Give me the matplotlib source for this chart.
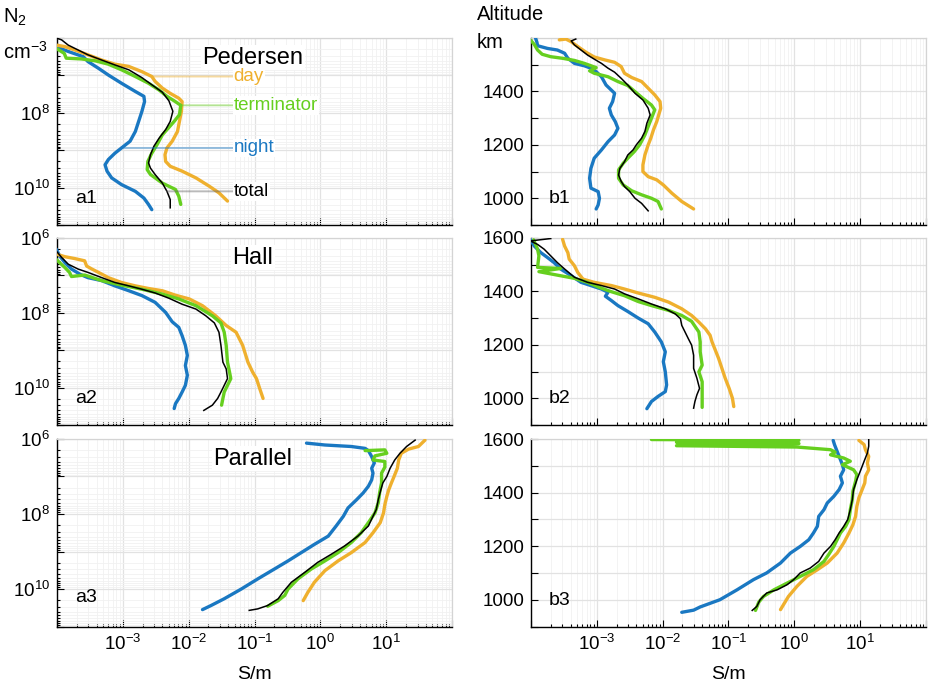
import numpy as np
import matplotlib
matplotlib.use("Agg")
import matplotlib.pyplot as plt
from matplotlib.ticker import LogLocator, MultipleLocator, FuncFormatter, NullFormatter

plt.rcParams["font.family"] = ["Liberation Sans", "DejaVu Sans"]
plt.rcParams["mathtext.default"] = "regular"

# ---- data: log10 of conductivity (S/m) against log10 N2 (cm^-3) or altitude (km)
# Pedersen, N2
a1_night_lgs = [-4.01, -3.83, -3.60, -3.53, -3.37, -3.22, -3.02, -2.81, -2.68, -2.67, -2.71, -2.76, -2.81,
                -2.89, -3.02, -3.12, -3.22, -3.27, -3.24, -3.17, -3.02, -2.81, -2.68, -2.61, -2.56]
a1_night_lgn = [6.23, 6.36, 6.50, 6.63, 6.81, 6.99, 7.21, 7.43, 7.56, 7.70, 7.96, 8.23, 8.50,
                8.76, 8.94, 9.08, 9.25, 9.39, 9.56, 9.74, 9.92, 10.10, 10.28, 10.45, 10.59]
a1_day_lgs = [-4.01, -3.88, -3.73, -3.53, -3.32, -3.12, -2.91, -2.71, -2.56, -2.51, -2.40, -2.28, -2.15, -2.10,
              -2.11, -2.14, -2.17, -2.25, -2.33, -2.36, -2.35, -2.28, -2.10, -1.89, -1.69, -1.54, -1.41]
a1_day_lgn = [6.19, 6.23, 6.32, 6.45, 6.59, 6.70, 6.76, 6.90, 7.03, 7.16, 7.34, 7.48, 7.61, 7.70,
              7.96, 8.23, 8.50, 8.76, 8.94, 9.12, 9.30, 9.43, 9.56, 9.74, 9.96, 10.14, 10.36]
a1_term_lgs = [-4.01, -3.89, -3.86, -3.63, -3.42, -3.22, -3.02, -2.81, -2.61, -2.45, -2.33, -2.22, -2.12,
               -2.14, -2.22, -2.30, -2.40, -2.48, -2.56, -2.62, -2.63, -2.58, -2.40, -2.20, -2.15, -2.12]
a1_term_lgn = [6.28, 6.41, 6.54, 6.56, 6.61, 6.70, 6.85, 7.03, 7.21, 7.39, 7.56, 7.68, 7.80,
               8.05, 8.23, 8.39, 8.59, 8.85, 9.08, 9.30, 9.52, 9.65, 9.88, 10.05, 10.23, 10.45]
a1_total_lgs = [-4.01, -3.93, -3.83, -3.68, -3.53, -3.32, -3.12, -2.91, -2.71, -2.56, -2.40, -2.30, -2.24,
                -2.28, -2.35, -2.45, -2.53, -2.58, -2.61, -2.58, -2.51, -2.40, -2.33, -2.28, -2.28]
a1_total_lgn = [6.00, 6.05, 6.19, 6.32, 6.45, 6.59, 6.72, 6.85, 7.06, 7.25, 7.45, 7.68, 7.96,
                8.23, 8.45, 8.68, 8.90, 9.12, 9.34, 9.48, 9.65, 9.88, 10.10, 10.32, 10.54]

# Pedersen, altitude
b1_night_lgs = [-3.93, -3.91, -3.90, -3.75, -3.60, -3.49, -3.44, -3.34, -3.19, -3.09, -3.01, -2.93, -2.86, -2.78,
                -2.73, -2.76, -2.81, -2.78, -2.72, -2.68, -2.73, -2.83, -2.93, -3.04, -3.09, -3.11, -3.09,
                -2.98, -2.96, -2.98, -3.01]
b1_night_alt = [1599, 1584, 1571, 1561, 1555, 1543, 1524, 1505, 1496, 1487, 1474, 1455, 1424, 1405,
                1393, 1362, 1337, 1312, 1287, 1262, 1237, 1212, 1181, 1150, 1112, 1075, 1038,
                1025, 1000, 975, 960]
b1_day_lgs = [-3.57, -3.47, -3.39, -3.29, -3.16, -3.04, -2.88, -2.73, -2.63, -2.58, -2.47, -2.32, -2.22, -2.12,
              -2.04, -2.03, -2.06, -2.09, -2.14, -2.18, -2.22, -2.27, -2.30, -2.30, -2.22, -2.09, -1.99,
              -1.86, -1.71, -1.53]
b1_day_alt = [1593, 1596, 1586, 1568, 1546, 1529, 1518, 1509, 1493, 1468, 1452, 1437, 1412, 1387,
              1362, 1337, 1312, 1287, 1256, 1225, 1200, 1162, 1125, 1100, 1081, 1069, 1050,
              1019, 988, 960]
b1_term_lgs = [-4.01, -3.95, -3.90, -3.83, -3.70, -3.52, -3.34, -3.19, -3.01, -3.11, -3.04, -2.83, -2.68,
               -2.53, -2.42, -2.30, -2.17, -2.12, -2.16, -2.21, -2.27, -2.35, -2.43, -2.53, -2.60, -2.67,
               -2.67, -2.60, -2.47, -2.32, -2.17, -2.07, -2.02]
b1_term_alt = [1593, 1576, 1555, 1539, 1530, 1524, 1516, 1505, 1489, 1477, 1468, 1455, 1437,
               1422, 1399, 1374, 1349, 1331, 1306, 1275, 1237, 1200, 1175, 1150, 1131, 1106,
               1075, 1050, 1028, 1013, 1000, 988, 960]
b1_total_lgs = [-3.32, -3.39, -3.34, -3.24, -3.14, -3.04, -2.93, -2.83, -2.73, -2.63, -2.53, -2.42, -2.30,
                -2.22, -2.19, -2.24, -2.27, -2.32, -2.40, -2.45, -2.53, -2.58, -2.65, -2.67, -2.63, -2.58,
                -2.50, -2.42, -2.32, -2.22]
b1_total_alt = [1596, 1589, 1574, 1555, 1536, 1521, 1505, 1487, 1472, 1449, 1424, 1393, 1368,
                1337, 1312, 1281, 1250, 1225, 1200, 1181, 1162, 1137, 1112, 1087, 1063, 1044,
                1025, 1000, 981, 953]

# Hall, N2
a2_night_lgs = [-4.01, -3.96, -3.88, -3.78, -3.65, -3.53, -3.32, -3.12, -2.91, -2.71, -2.51, -2.35,
                -2.25, -2.15, -2.10, -2.05, -2.02, -2.05, -2.02, -2.05, -2.10, -2.15, -2.20, -2.22]
a2_night_lgn = [6.30, 6.48, 6.66, 6.83, 6.97, 7.06, 7.14, 7.28, 7.41, 7.54, 7.72, 7.99,
                8.24, 8.39, 8.61, 8.87, 9.14, 9.41, 9.67, 9.94, 10.12, 10.29, 10.43, 10.56]
a2_day_lgs = [-4.01, -3.88, -3.73, -3.58, -3.55, -3.47, -3.37, -3.22, -3.02, -2.81, -2.61, -2.40,
              -2.20, -1.99, -1.79, -1.59, -1.43, -1.28, -1.18, -1.10, -1.03, -0.97, -0.92, -0.87]
a2_day_lgn = [6.43, 6.50, 6.55, 6.61, 6.75, 6.83, 6.92, 7.06, 7.19, 7.28, 7.35, 7.41,
              7.53, 7.63, 7.81, 8.08, 8.34, 8.52, 8.87, 9.32, 9.58, 9.76, 10.03, 10.29]
a2_term_lgs = [-4.01, -3.96, -3.88, -3.81, -3.78, -3.58, -3.32, -3.02, -2.71, -2.40, -2.15, -1.89,
               -1.64, -1.51, -1.46, -1.43, -1.41, -1.38, -1.36, -1.41, -1.46, -1.48, -1.50]
a2_term_lgn = [6.57, 6.66, 6.79, 6.92, 7.03, 6.99, 7.14, 7.26, 7.37, 7.50, 7.63, 7.81,
               8.08, 8.27, 8.52, 8.87, 9.32, 9.58, 9.76, 9.94, 10.12, 10.29, 10.47]
a2_total_lgs = [-4.01, -3.93, -3.83, -3.68, -3.53, -3.32, -3.12, -2.91, -2.71, -2.51, -2.30, -2.10,
                -1.89, -1.74, -1.61, -1.54, -1.51, -1.48, -1.43, -1.41, -1.46, -1.51, -1.56, -1.64, -1.77]
a2_total_lgn = [6.35, 6.52, 6.70, 6.83, 6.92, 7.06, 7.19, 7.28, 7.37, 7.47, 7.61, 7.77,
                7.90, 8.08, 8.27, 8.52, 8.87, 9.32, 9.50, 9.76, 9.94, 10.12, 10.29, 10.47, 10.61]

# Hall, altitude
b2_night_lgs = [-4.01, -3.95, -3.85, -3.75, -3.65, -3.55, -3.39, -3.24, -3.09, -2.93, -2.83, -2.87, -2.78,
                -2.68, -2.53, -2.37, -2.22, -2.12, -2.02, -1.96, -1.99, -1.96, -1.94, -1.96, -2.07, -2.17, -2.24]
b2_night_alt = [1595, 1570, 1545, 1527, 1508, 1484, 1459, 1434, 1422, 1409, 1397, 1382, 1366,
                1347, 1325, 1300, 1279, 1248, 1211, 1174, 1137, 1099, 1050, 1025, 1007, 988, 961]
b2_day_lgs = [-3.52, -3.49, -3.44, -3.42, -3.34, -3.29, -3.21, -3.04, -2.78, -2.58, -2.37, -2.12, -1.91,
              -1.71, -1.56, -1.45, -1.35, -1.28, -1.25, -1.20, -1.15, -1.10, -1.05, -0.99, -0.94, -0.92]
b2_day_alt = [1595, 1570, 1545, 1521, 1496, 1471, 1446, 1434, 1422, 1409, 1394, 1378, 1360,
              1335, 1310, 1285, 1260, 1236, 1211, 1180, 1149, 1112, 1075, 1037, 1000, 969]
b2_term_lgs = [-3.96, -3.90, -3.88, -3.90, -3.55, -3.88, -3.60, -3.34, -3.14, -2.96, -2.78, -2.58, -2.37,
               -2.17, -1.91, -1.71, -1.56, -1.45, -1.43, -1.43, -1.40, -1.45, -1.40, -1.40, -1.40, -1.40]
b2_term_alt = [1593, 1558, 1533, 1490, 1486, 1474, 1461, 1449, 1434, 1415, 1399, 1384, 1362,
               1347, 1329, 1310, 1288, 1248, 1211, 1174, 1124, 1099, 1062, 1025, 988, 966]
b2_total_lgs = [-3.70, -4.01, -3.90, -3.80, -3.70, -3.60, -3.49, -3.34, -3.14, -2.93, -2.73, -2.58, -2.37,
                -2.17, -1.96, -1.81, -1.73, -1.71, -1.66, -1.61, -1.56, -1.53, -1.53, -1.48, -1.44, -1.48,
                -1.51, -1.53]
b2_total_alt = [1598, 1589, 1576, 1558, 1533, 1508, 1484, 1453, 1434, 1422, 1409, 1391, 1372,
                1353, 1335, 1316, 1298, 1273, 1248, 1223, 1199, 1161, 1112, 1075, 1037, 1013,
                988, 963]

# Parallel, N2
a3_night_lgs = [-0.21, 0.07, 0.47, 0.68, 0.73, 0.78, 0.82, 0.78, 0.80, 0.78, 0.73, 0.65, 0.55,
                0.42, 0.35, 0.24, 0.12, -0.09, -0.29, -0.49, -0.70, -0.95, -1.20, -1.46, -1.66, -1.79]
a3_night_lgn = [6.11, 6.16, 6.20, 6.25, 6.31, 6.47, 6.64, 6.78, 6.91, 7.09, 7.26, 7.44, 7.62,
                7.84, 8.06, 8.32, 8.59, 8.81, 9.03, 9.25, 9.47, 9.73, 10.00, 10.26, 10.44, 10.55]
a3_day_lgs = [1.59, 1.49, 1.34, 1.23, 1.19, 1.17, 1.12, 1.08, 1.04, 1.01, 0.98, 0.96, 0.91,
              0.80, 0.68, 0.47, 0.27, 0.07, -0.09, -0.19, -0.26]
a3_day_lgn = [6.03, 6.20, 6.27, 6.38, 6.56, 6.78, 7.00, 7.17, 7.35, 7.53, 7.75, 7.97, 8.23,
              8.50, 8.76, 9.03, 9.25, 9.51, 9.82, 10.09, 10.31]
a3_term_lgs = [0.68, 0.98, 1.01, 0.83, 0.80, 0.98, 0.98, 0.93, 0.93, 0.90, 0.88, 0.83, 0.73,
               0.62, 0.47, 0.27, 0.07, -0.14, -0.34, -0.49, -0.54, -0.64, -0.80]
a3_term_lgn = [6.31, 6.29, 6.38, 6.45, 6.56, 6.60, 6.75, 6.91, 7.17, 7.44, 7.70, 7.97, 8.23,
               8.50, 8.76, 9.03, 9.25, 9.47, 9.73, 10.00, 10.17, 10.31, 10.46]
a3_total_lgs = [1.44, 1.31, 1.21, 1.13, 1.06, 1.01, 0.95, 0.92, 0.88, 0.85, 0.80, 0.73, 0.57,
                0.37, 0.17, -0.04, -0.24, -0.44, -0.57, -0.64, -0.80, -0.95, -1.08]
a3_total_lgn = [6.03, 6.20, 6.38, 6.56, 6.78, 7.00, 7.17, 7.35, 7.62, 7.88, 8.06, 8.32, 8.59,
                8.85, 9.07, 9.29, 9.56, 9.82, 10.09, 10.26, 10.44, 10.53, 10.57]

# Parallel, altitude
b3_night_lgs = [0.59, 0.61, 0.65, 0.70, 0.73, 0.75, 0.70, 0.73, 0.68, 0.60, 0.50, 0.45, 0.37,
                0.35, 0.29, 0.22, 0.09, -0.06, -0.21, -0.42, -0.62, -0.87, -1.13, -1.43, -1.53, -1.71]
b3_night_alt = [1595, 1579, 1554, 1523, 1504, 1485, 1461, 1436, 1411, 1386, 1361, 1336, 1311,
                1274, 1249, 1224, 1199, 1174, 1137, 1100, 1075, 1037, 1000, 973, 961, 953]
b3_day_lgs = [0.98, 1.06, 1.08, 1.13, 1.11, 1.13, 1.08, 1.07, 1.03, 0.98, 0.95, 0.93, 0.89,
              0.83, 0.75, 0.65, 0.50, 0.35, 0.19, 0.04, -0.09, -0.21]
b3_day_alt = [1595, 1579, 1560, 1535, 1510, 1485, 1461, 1436, 1411, 1380, 1349, 1311, 1280,
              1249, 1212, 1174, 1137, 1112, 1087, 1050, 1012, 963]
b3_term_lgs = [-2.17, 0.07, -1.79, 0.07, -1.79, 0.04, 0.55, 0.62, 0.55, 0.75, 0.85, 0.73, 0.90,
               0.95, 0.93, 0.89, 0.88, 0.85, 0.83, 0.78, 0.70, 0.65, 0.60, 0.52, 0.45, 0.29,
               0.09, -0.11, -0.31, -0.47, -0.54, -0.59]
b3_term_alt = [1598, 1595, 1588, 1583, 1575, 1570, 1560, 1551, 1541, 1529, 1517, 1504, 1485,
               1467, 1442, 1405, 1373, 1336, 1299, 1274, 1249, 1224, 1199, 1168, 1143, 1112,
               1087, 1062, 1037, 1012, 991, 960]
b3_total_lgs = [1.13, 1.13, 1.11, 1.06, 1.01, 0.95, 0.90, 0.88, 0.85, 0.81, 0.75, 0.68, 0.62,
                0.55, 0.45, 0.37, 0.24, 0.09, -0.01, -0.11, -0.26, -0.42, -0.52, -0.57, -0.64]
b3_total_alt = [1598, 1573, 1548, 1517, 1485, 1448, 1411, 1373, 1336, 1299, 1274, 1249, 1224,
                1199, 1174, 1143, 1118, 1100, 1075, 1056, 1037, 1025, 1000, 975, 960]

panel_titles = ["Pedersen", "Hall", "Parallel"]
series_names = ["night", "day", "terminator", "total"]
colors = {"night": "#1a78c2", "day": "#efb02e", "terminator": "#66cf1f", "total": "black"}

panels = {
    "a1": [(a1_night_lgs, a1_night_lgn), (a1_day_lgs, a1_day_lgn), (a1_term_lgs, a1_term_lgn), (a1_total_lgs, a1_total_lgn)],
    "b1": [(b1_night_lgs, b1_night_alt), (b1_day_lgs, b1_day_alt), (b1_term_lgs, b1_term_alt), (b1_total_lgs, b1_total_alt)],
    "a2": [(a2_night_lgs, a2_night_lgn), (a2_day_lgs, a2_day_lgn), (a2_term_lgs, a2_term_lgn), (a2_total_lgs, a2_total_lgn)],
    "b2": [(b2_night_lgs, b2_night_alt), (b2_day_lgs, b2_day_alt), (b2_term_lgs, b2_term_alt), (b2_total_lgs, b2_total_alt)],
    "a3": [(a3_night_lgs, a3_night_lgn), (a3_day_lgs, a3_day_lgn), (a3_term_lgs, a3_term_lgn), (a3_total_lgs, a3_total_lgn)],
    "b3": [(b3_night_lgs, b3_night_alt), (b3_day_lgs, b3_day_alt), (b3_term_lgs, b3_term_alt), (b3_total_lgs, b3_total_alt)],
}
# which point of each a1 curve the legend leader line starts from
legend_idx = {"day": 8, "terminator": 12, "night": 14, "total": 22}

W, H = 940, 692
fig = plt.figure(figsize=(9.4, 6.92), dpi=100)

def ax_rect(x0, y0, x1, y1):
    return [x0 / W, 1 - y1 / H, (x1 - x0) / W, (y1 - y0) / H]

col_x = [(57, 452), (531, 926)]
row_y = [(38, 225), (238, 425), (439, 626.5)]
FS = 13.5


def sup_fmt(lo, hi, skip=None):
    def f(v, pos):
        if v <= 0:
            return ""
        e = int(round(np.log10(v)))
        if abs(np.log10(v) - e) > 1e-6 or e < lo or e > hi or (skip is not None and e in skip):
            return ""
        return r"$10^{%d}$" % e
    return FuncFormatter(f)


def alt_fmt(skip_top):
    def f(v, pos):
        iv = int(round(v))
        if iv % 200 != 0 or iv < 1000 or (skip_top and iv == 1600):
            return ""
        return str(iv)
    return FuncFormatter(f)


axes = {}
for r in range(3):
    for c in range(2):
        key = ("a", "b")[c] + str(r + 1)
        (x0, x1), (y0, y1) = col_x[c], row_y[r]
        ax = fig.add_axes(ax_rect(x0, y0, x1, y1))
        axes[key] = ax
        ax.set_axisbelow(True)
        ax.set_xscale("log")
        ax.set_xlim(1e-4, 1e2)
        ax.xaxis.set_major_locator(LogLocator(base=10, numticks=20))
        ax.xaxis.set_minor_locator(LogLocator(base=10, subs=np.arange(2, 10), numticks=20))
        ax.xaxis.set_minor_formatter(NullFormatter())
        if r == 2:
            ax.xaxis.set_major_formatter(sup_fmt(-3, 1))
            ax.set_xlabel("S/m", fontsize=FS + 0.5, labelpad=9)
        else:
            ax.xaxis.set_major_formatter(NullFormatter())
        if c == 0:
            ax.set_yscale("log")
            ax.set_ylim(1e11, 1e6)
            ax.yaxis.set_major_locator(LogLocator(base=10, numticks=20))
            ax.yaxis.set_minor_locator(LogLocator(base=10, subs=np.arange(2, 10), numticks=20))
            ax.yaxis.set_minor_formatter(NullFormatter())
            ax.yaxis.set_major_formatter(sup_fmt(6, 10, skip={7, 9, 11} | ({6} if r == 0 else set())))
        else:
            ax.set_ylim(900, 1600)
            ax.yaxis.set_major_locator(MultipleLocator(100))
            ax.yaxis.set_major_formatter(alt_fmt(r == 0))
        ax.grid(which="major", color="#e2e2e2", lw=0.9)
        ax.grid(which="minor", color="#f1f1f1", lw=0.6)
        ax.tick_params(which="both", direction="in", top=False, right=False, labelsize=FS, width=0.8)
        ax.tick_params(which="major", length=5, pad=5)
        ax.tick_params(which="minor", length=2.5)
        for s in ("left", "bottom"):
            ax.spines[s].set_color("black")
            ax.spines[s].set_linewidth(1.0)
        for s in ("top", "right"):
            ax.spines[s].set_color("#d4d4d4")
            ax.spines[s].set_linewidth(0.9)

        for name, (lgs, yv) in zip(series_names, panels[key]):
            yy = 10.0 ** np.array(yv) if c == 0 else np.array(yv)
            if name == "total":
                ax.plot(10.0 ** np.array(lgs), yy, color=colors[name], lw=1.1, zorder=5)
            else:
                ax.plot(10.0 ** np.array(lgs), yy, color=colors[name], lw=2.4,
                        solid_capstyle="round", zorder=3)

        ax.text(0.045, 0.14 if key != "a3" else 0.155, key, transform=ax.transAxes,
                fontsize=FS + 0.5, ha="left", va="center", zorder=6)
        if c == 0:
            ax.text(0.496, 0.895, panel_titles[r], transform=ax.transAxes, fontsize=17,
                    ha="center", va="center", zorder=6,
                    bbox=dict(facecolor="white", edgecolor="none", pad=1))

# leader-line legend in panel a1
ax = axes["a1"]
for name in ["day", "terminator", "night", "total"]:
    lgs, lgn = panels["a1"][series_names.index(name)]
    i = legend_idx[name]
    xv, yv = 10.0 ** lgs[i], 10.0 ** lgn[i]
    lc = "#666666" if name == "total" else colors[name]
    ax.annotate(name, xy=(xv, yv), xycoords="data",
                xytext=(0.447, yv), textcoords=("axes fraction", "data"),
                fontsize=FS, color=colors[name], ha="left", va="center", zorder=7,
                bbox=dict(facecolor="white", edgecolor="none", pad=0.5),
                arrowprops=dict(arrowstyle="-", color=lc, alpha=0.45, lw=1.4,
                                shrinkA=0, shrinkB=0))

# axis unit labels
fig.text(3 / W, 1 - 17 / H, r"$N_2$", fontsize=FS + 1, ha="left", va="center")
fig.text(3 / W, 1 - 52 / H, r"cm$^{-3}$", fontsize=FS + 1, ha="left", va="center")
fig.text(477 / W, 1 - 15 / H, "Altitude", fontsize=FS + 1, ha="left", va="center")
fig.text(477 / W, 1 - 42 / H, "km", fontsize=FS + 1, ha="left", va="center")

fig.savefig("out.png", dpi=100)
